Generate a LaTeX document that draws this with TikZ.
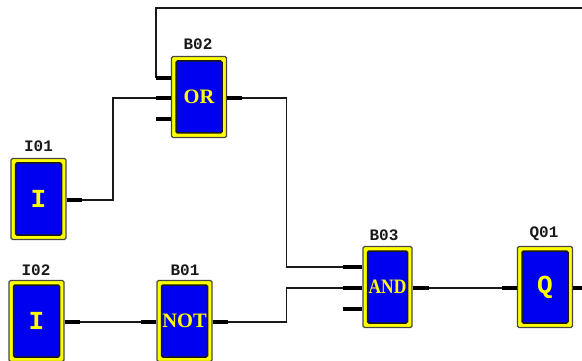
\documentclass[tikz,border=0pt]{standalone}
\usepackage{fontspec}
\setmainfont{Liberation Serif}
\newfontfamily\monof{Liberation Mono}
\definecolor{blockblue}{RGB}{0,0,240}
\definecolor{blockyellow}{RGB}{255,255,0}
\definecolor{ink}{RGB}{25,25,25}
\tikzset{
  frameouter/.style={draw=ink!80!white,line width=1.4pt,fill=blockyellow,rounded corners=1.5pt,inner sep=0pt,minimum width=#1-1,minimum height=81pt},
  frameinner/.style={draw=ink,line width=1.5pt,fill=blockblue,rounded corners=1.5pt,inner sep=0pt,minimum width=#1-10,minimum height=72pt,
    text=blockyellow,font=\fontsize{20.5}{20.5}\selectfont\bfseries},
  glyphmono/.style={font=\monof\fontsize{26}{26}\selectfont\bfseries},
  tag/.style={font=\monof\fontsize{16}{16}\selectfont\bfseries,text=ink,inner sep=0pt},
  wire/.style={draw=ink,line width=1.7pt,line join=miter},
  stub/.style={draw=black,line width=3.2pt},
}
\begin{document}
\begin{tikzpicture}[x=1pt,y=-1pt]
\useasboundingbox (0,0) rectangle (582,361);
\clip (0,0) rectangle (582,361);
% blocks
\node[frameouter=56pt] (i01o) at (38.5,199) {};
\node[frameinner=56pt,glyphmono] (i01) at (38.5,199) {I};
\node[frameouter=56pt] (i02o) at (36.5,321) {};
\node[frameinner=56pt,glyphmono] (i02) at (36.5,321) {I};
\node[frameouter=56pt] (b01o) at (184.5,321) {};
\node[frameinner=56pt] (b01) at (184.5,321) {NOT};
\node[frameouter=56pt] (b02o) at (199,97) {};
\node[frameinner=56pt] (b02) at (199,97) {OR};
\node[frameouter=50pt] (b03o) at (387.5,287) {};
\node[frameinner=50pt] (b03) at (387.5,287) {\scalebox{0.85}[1]{AND}};
\node[frameouter=56pt] (q01o) at (545,287) {};
\node[frameinner=56pt,glyphmono] (q01) at (545,287) {Q};
% tags
\node[tag] (ti01) at (38.5,146) {I01};
\node[tag] (ti02) at (36,270) {I02};
\node[tag] (tb01) at (185,270) {B01};
\node[tag] (tb02) at (198,44) {B02};
\node[tag] (tb03) at (384,235) {B03};
\node[tag] (tq01) at (544,234) {Q01};
% pin ends
\coordinate (b02a) at (156,78);
\coordinate (b02b) at (156,98);
\coordinate (b02c) at (156,119);
\coordinate (b02q) at (242,98);
\coordinate (i01q) at (82,200);
\coordinate (i02q) at (80,322);
\coordinate (b01a) at (141,322);
\coordinate (b01q) at (228,322);
\coordinate (b03a) at (343,267);
\coordinate (b03b) at (343,288);
\coordinate (b03c) at (343,309);
\coordinate (b03q) at (429,288);
\coordinate (q01a) at (502,288);
\coordinate (q01q) at (590,288);
\coordinate (topright) at (590,8);
% wires
\draw[wire] (b02a) -- (156,8) -- (topright);
\draw[wire] (i01q) -- (113,200) -- (113,98) -- (b02b);
\draw[wire] (b02q) -- (286.5,98) -- (286.5,267) -- (b03a);
\draw[wire] (i02q) -- (b01a);
\draw[wire] (b01q) -- (286.5,322) -- (286.5,288) -- (b03b);
\draw[wire] (b03q) -- (q01a);
% stubs
\draw[stub] (b02a) -- (b02o.west |- b02a);
\draw[stub] (b02b) -- (b02o.west |- b02b);
\draw[stub] (b02c) -- (b02o.west |- b02c);
\draw[stub] (b02o.east |- b02q) -- (b02q);
\draw[stub] (i01o.east |- i01q) -- (i01q);
\draw[stub] (i02o.east |- i02q) -- (i02q);
\draw[stub] (b01a) -- (b01o.west |- b01a);
\draw[stub] (b01o.east |- b01q) -- (b01q);
\draw[stub] (b03a) -- (b03o.west |- b03a);
\draw[stub] (b03b) -- (b03o.west |- b03b);
\draw[stub] (b03c) -- (b03o.west |- b03c);
\draw[stub] (b03o.east |- b03q) -- (b03q);
\draw[stub] (q01a) -- (q01o.west |- q01a);
\draw[stub] (q01o.east |- q01q) -- (q01q);
\end{tikzpicture}
\end{document}
